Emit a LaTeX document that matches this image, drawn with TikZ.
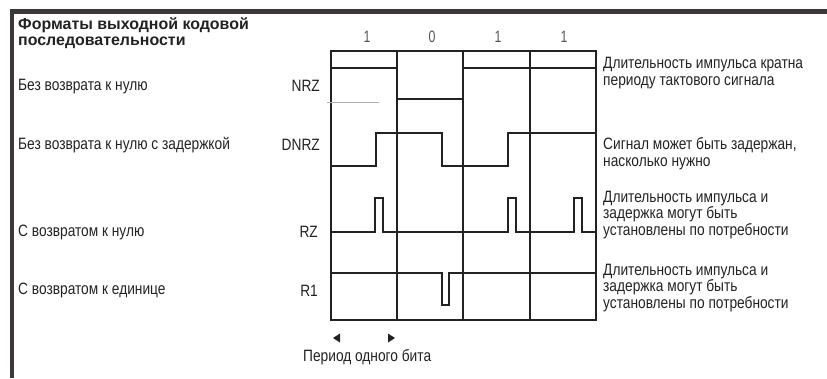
\documentclass[tikz,border=0pt]{standalone}
\usepackage{fontspec}
\setmainfont{Liberation Sans}[FakeStretch=0.835]
\newfontfamily\titlefont{Liberation Sans}
\newfontfamily\bitfont{Liberation Sans}[FakeStretch=0.75]
\definecolor{frame}{HTML}{3D3838}
\definecolor{ink}{HTML}{222222}
\definecolor{bitgray}{HTML}{555555}
\begin{document}
\begin{tikzpicture}[x=1bp,y=-1bp,
  txt/.style={inner sep=0pt,font=\fontsize{16.5}{17}\selectfont,text=ink,align=left},
  lbl/.style={inner sep=0pt,font=\fontsize{16.5}{17}\selectfont,text=ink,anchor=east},
  bit/.style={inner sep=0pt,font=\bitfont\fontsize{16.5}{16}\selectfont,text=bitgray},
  gridline/.style={draw=ink,line width=1.6bp},
  sig/.style={draw=ink,line width=1.6bp,line join=miter}]
\useasboundingbox (0,0) rectangle (827,378);
% frame bars
\fill[frame] (10,9) rectangle (827,14);
\fill[frame] (10,9) rectangle (14,378);
% title and row names
\node[txt,anchor=west,font=\titlefont\fontsize{16}{16.5}\bfseries\selectfont] (title) at (18,33) {Форматы выходной кодовой\\последовательности};
\node[txt,anchor=west] (n1) at (18,87) {Без возврата к нулю};
\node[txt,anchor=west] (n2) at (18,145) {Без возврата к нулю с задержкой};
\node[txt,anchor=west] (n3) at (18,232) {С возвратом к нулю};
\node[txt,anchor=west] (n4) at (18,290) {С возвратом к единице};
% codes
\node[lbl] (c1) at (320,86) {NRZ};
\node[lbl] (c2) at (320,145) {DNRZ};
\node[lbl] (c3) at (318,232) {RZ};
\node[lbl] (c4) at (318,291) {R1};
% bit labels
\node[bit] (b1) at (367,37) {1};
\node[bit] (b2) at (432,37) {0};
\node[bit] (b3) at (498,37) {1};
\node[bit] (b4) at (564,37) {1};
% grid
\draw[gridline] (331,51) rectangle (596,320);
\draw[gridline] (397,51) -- (397,320);
\draw[gridline] (463,51) -- (463,320);
\draw[gridline] (530,51) -- (530,320);
% faint artefact line
\draw[gray!60,line width=0.6bp] (327,102) -- (379,102);
% NRZ
\draw[sig] (331,68) -- (397,68) -- (397,99) -- (463,99) -- (463,68) -- (596,68);
% DNRZ
\draw[sig] (331,166) -- (376,166) -- (376,133) -- (442,133) -- (442,166) -- (508,166) -- (508,133) -- (596,133);
% RZ
\draw[sig] (331,232) -- (375,232) -- (375,198) -- (383,198) -- (383,232)
  -- (508,232) -- (508,198) -- (516,198) -- (516,232)
  -- (574,232) -- (574,198) -- (582,198) -- (582,232) -- (596,232);
% R1
\draw[sig] (331,273) -- (442,273) -- (442,305) -- (449,305) -- (449,273) -- (596,273);
% descriptions
\node[txt,anchor=west] (d1) at (603,73) {Длительность импульса кратна\\периоду тактового сигнала};
\node[txt,anchor=west] (d2) at (603,153.5) {Сигнал может быть задержан,\\насколько нужно};
\node[txt,anchor=west] (d3) at (603,215) {Длительность импульса и\\задержка могут быть\\установлены по потребности};
\node[txt,anchor=west] (d4) at (603,288) {Длительность импульса и\\задержка могут быть\\установлены по потребности};
% bit period markers
\fill[ink] (340,333.5) -- (333,338) -- (340,342.5) -- cycle;
\fill[ink] (388,333.5) -- (395,338) -- (388,342.5) -- cycle;
\node[txt,anchor=west] (period) at (303,357) {Период одного бита};
\end{tikzpicture}
\end{document}
